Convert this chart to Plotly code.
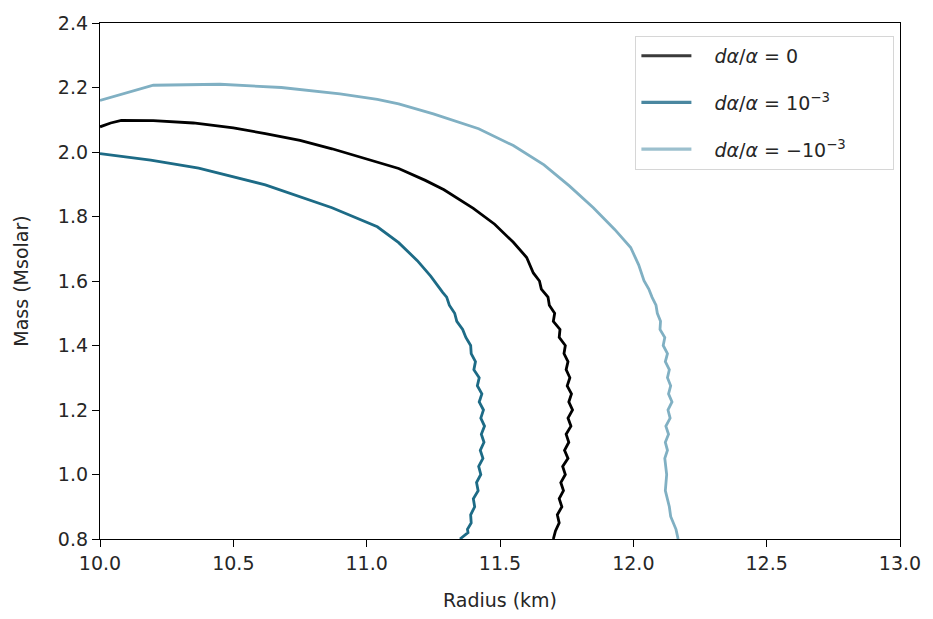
import plotly.graph_objects as go

# ---- data ----
black_r = [10.00, 10.04, 10.08, 10.20, 10.35, 10.50, 10.62, 10.75, 10.87, 11.00, 11.12, 11.22, 11.29, 11.40,
           11.48, 11.55, 11.60, 11.625, 11.648, 11.655, 11.68, 11.685, 11.705, 11.70, 11.725, 11.722, 11.745,
           11.74, 11.755, 11.748, 11.762, 11.752, 11.768, 11.758, 11.772, 11.755, 11.766, 11.748, 11.758,
           11.742, 11.755, 11.735, 11.745, 11.728, 11.738, 11.722, 11.732, 11.715, 11.722, 11.708, 11.700]
black_m = [2.078, 2.090, 2.098, 2.097, 2.090, 2.075, 2.057, 2.036, 2.010, 1.978, 1.949, 1.912, 1.883, 1.825,
           1.776, 1.720, 1.673, 1.625, 1.600, 1.575, 1.550, 1.525, 1.500, 1.475, 1.450, 1.425, 1.400,
           1.375, 1.350, 1.325, 1.300, 1.275, 1.250, 1.225, 1.200, 1.175, 1.150, 1.125, 1.100,
           1.075, 1.050, 1.025, 1.000, 0.975, 0.950, 0.925, 0.900, 0.875, 0.850, 0.825, 0.800]

teal_r = [10.00, 10.19, 10.37, 10.62, 10.87, 11.04, 11.12, 11.19, 11.24, 11.27, 11.285, 11.30, 11.31, 11.33,
          11.338, 11.36, 11.372, 11.39, 11.392, 11.408, 11.402, 11.422, 11.415, 11.432, 11.422, 11.438, 11.428,
          11.442, 11.43, 11.44, 11.426, 11.436, 11.42, 11.428, 11.412, 11.418, 11.40, 11.405, 11.39, 11.392,
          11.378, 11.38, 11.365, 11.35]
teal_m = [1.995, 1.975, 1.950, 1.898, 1.827, 1.768, 1.719, 1.663, 1.615, 1.580, 1.565, 1.550, 1.525, 1.500,
          1.475, 1.450, 1.425, 1.400, 1.375, 1.350, 1.325, 1.300, 1.275, 1.250, 1.225, 1.200, 1.175,
          1.150, 1.125, 1.100, 1.075, 1.050, 1.025, 1.000, 0.975, 0.950, 0.925, 0.900, 0.875, 0.850,
          0.830, 0.820, 0.810, 0.800]

light_r = [10.00, 10.20, 10.45, 10.68, 10.90, 11.04, 11.12, 11.25, 11.42, 11.55, 11.665, 11.76, 11.85, 11.93,
           11.99, 12.02, 12.04, 12.058, 12.07, 12.085, 12.09, 12.102, 12.10, 12.118, 12.112, 12.128, 12.12,
           12.135, 12.128, 12.14, 12.132, 12.145, 12.13, 12.138, 12.122, 12.132, 12.12, 12.128, 12.118,
           12.125, 12.12, 12.135, 12.14, 12.16, 12.168]
light_m = [2.160, 2.207, 2.210, 2.200, 2.180, 2.163, 2.149, 2.118, 2.072, 2.020, 1.960, 1.895, 1.827, 1.760,
           1.704, 1.650, 1.601, 1.575, 1.550, 1.525, 1.500, 1.475, 1.450, 1.425, 1.400, 1.375, 1.350,
           1.325, 1.300, 1.275, 1.250, 1.225, 1.200, 1.175, 1.150, 1.125, 1.100, 1.075, 1.050,
           1.000, 0.950, 0.900, 0.870, 0.830, 0.800]

series_names = ["<i>dα</i>/<i>α</i> = 0",
                "<i>dα</i>/<i>α</i> = 10<sup>−3</sup>",
                "<i>dα</i>/<i>α</i> = −10<sup>−3</sup>"]
series_colors = ["#000000", "#1d6b86", "#80b0c3"]
legend_colors = ["#3a3a3a", "#4a87a0", "#9cc0ce"]

x_ticks = [10.0, 10.5, 11.0, 11.5, 12.0, 12.5, 13.0]
y_ticks = [0.8, 1.0, 1.2, 1.4, 1.6, 1.8, 2.0, 2.2, 2.4]

NB = "\u00a0"

fig = go.Figure()
for r, m, col in zip([black_r, teal_r, light_r], [black_m, teal_m, light_m], series_colors):
    fig.add_trace(go.Scatter(x=r, y=m, mode="lines", showlegend=False,
                             line=dict(color=col, width=2.8)))
# legend entries (lighter line swatches, as in the reference legend)
for i, (name, col) in enumerate(zip(series_names, legend_colors)):
    fig.add_trace(go.Scatter(x=[None], y=[None], mode="lines", name=NB * 3 + name + NB * 7,
                             legendgroup=f"g{i}", line=dict(color=col, width=3.2)))

axis_common = dict(showgrid=False, zeroline=False, showline=True, linecolor="#000000", linewidth=1.3,
                   mirror=True, ticks="outside", ticklen=7, tickwidth=1.3, tickcolor="#000000",
                   tickfont=dict(size=19, color="#262626"))

fig.update_layout(
    width=933, height=619,
    margin=dict(l=100, r=26, t=20, b=78),
    paper_bgcolor="white", plot_bgcolor="white",
    font=dict(family="DejaVu Sans", color="#262626", size=19),
    xaxis=dict(range=[10, 13], tickvals=x_ticks, ticktext=[f"{v:.1f}" for v in x_ticks],
               title=dict(text="Radius (km)", font=dict(size=19), standoff=20), **axis_common),
    yaxis=dict(range=[0.8, 2.4], tickvals=y_ticks, ticktext=[f"{v:.1f}" for v in y_ticks],
               title=dict(text="Mass (Msolar)", font=dict(size=19), standoff=24), **axis_common),
    legend=dict(x=0.993, y=0.975, xanchor="right", yanchor="top",
                bgcolor="rgba(255,255,255,0.9)", bordercolor="#d6d6d6", borderwidth=1,
                font=dict(size=19, color="#262626"), tracegroupgap=19, itemwidth=50),
    showlegend=True,
)

fig.write_html("out.html")
